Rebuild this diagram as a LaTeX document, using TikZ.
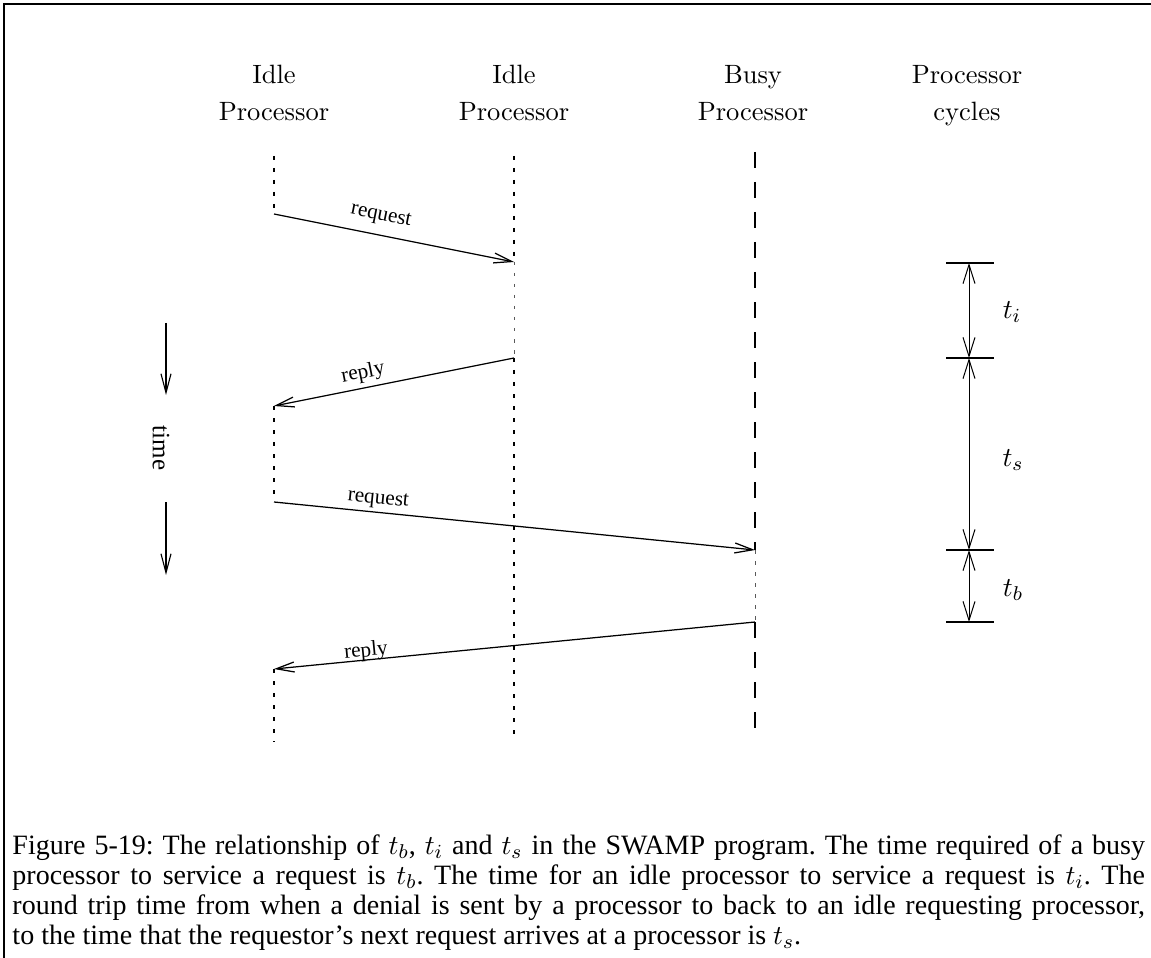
\documentclass[tikz,border=0pt]{standalone}
\usepackage{fontspec}
\newfontfamily\tms{Liberation Serif}
\usetikzlibrary{arrows.meta}
\begin{document}
\begin{tikzpicture}[x=0.4pt,y=-0.4pt,
  frameline/.style={line width=0.75pt},
  lifedot/.style={line width=1pt, dash pattern=on 1.6pt off 3.2pt},
  lifedash/.style={line width=1pt, dash pattern=on 6.4pt off 5.6pt},
  faint/.style={line width=0.4pt, black!65, dash pattern=on 1.4pt off 3pt},
  msg/.style={line width=0.5pt, -{Straight Barb[length=7.2pt,width=4pt]}},
  dimarrow/.style={line width=0.4pt, {Straight Barb[length=7.6pt,width=4.8pt]}-{Straight Barb[length=7.6pt,width=4.8pt]}},
  timearrow/.style={line width=0.45pt, -{Straight Barb[length=7.6pt,width=4pt]}},
  tick/.style={line width=0.5pt},
  msglabel/.style={font=\tms\fontsize{8.5}{10}\selectfont, inner sep=0pt, sloped},
  head/.style={font=\fontsize{10.6}{14.8}\selectfont, align=center, inner sep=0pt, anchor=north},
  mathlabel/.style={font=\fontsize{11}{13}\selectfont, inner sep=0pt},
  caption/.style={font=\tms\fontsize{11.2}{12}\selectfont\frenchspacing, inner sep=0pt, anchor=north west, text width=453pt, align=justify}
]
\useasboundingbox (0,0) rectangle (1151,958);
% frame
\coordinate (fTL) at (4,4);
\coordinate (fTR) at (1151,4);
\coordinate (fBL) at (4,958);
\draw[frameline] (fTR) -- (fTL) -- (fBL);

% headings
\node[head] (h1) at (274,65) {Idle\\Processor};
\node[head] (h2) at (514,65) {Idle\\Processor};
\node[head] (h3) at (753,65) {Busy\\Processor};
\node[head] (h4) at (967,65) {Processor\\cycles};

% lifeline coordinates
\coordinate (a0) at (274,156);
\coordinate (a1) at (274,214);
\coordinate (a2) at (274,406);
\coordinate (a3) at (274,502);
\coordinate (a4) at (274,669);
\coordinate (a5) at (274,742);
\coordinate (b0) at (514,156);
\coordinate (b1) at (514,262);
\coordinate (b2) at (514,358);
\coordinate (b3) at (514,734);
\coordinate (c0) at (755,152);
\coordinate (c1) at (755,550);
\coordinate (c2) at (755,622);
\coordinate (c3) at (755,742);

% lifelines
\draw[lifedot] (a0) -- (a1);
\draw[lifedot] (a2) -- (a3);
\draw[lifedot] (a4) -- (a5);
\draw[lifedot] (b0) -- (b1);
\draw[faint] (b1) -- (b2);
\draw[lifedot] (b2) -- (b3);
\draw[lifedash] (c0) -- (c1);
\draw[faint] (c1) -- (c2);
\draw[lifedash] (c2) -- (c3);

% messages
\draw[msg] (a1) -- node[msglabel, pos=0.43, above=4pt] {request} (b1);
\draw[msg] (b2) -- node[msglabel, pos=0.617, above=1.8pt] {reply} (a2);
\draw[msg] (a3) -- node[msglabel, pos=0.214, above=1.5pt] {request} (c1);
\draw[msg] (c2) -- node[msglabel, pos=0.807, above=-0.7pt] {reply} (a4);

% time indicator
\node[font=\tms\fontsize{10}{12}\selectfont, rotate=-90, inner sep=0pt] (time) at (161,448) {time};
\coordinate (t1s) at (166,323);
\coordinate (t1e) at (166,395);
\coordinate (t2s) at (166,502);
\coordinate (t2e) at (166,575);
\draw[timearrow] (t1s) -- (t1e);
\draw[timearrow] (t2s) -- (t2e);

% processor cycles dimensions
\coordinate (d1) at (969,263);
\coordinate (d2) at (969,358);
\coordinate (d3) at (969,550);
\coordinate (d4) at (969,622);
\foreach \d in {d1,d2,d3,d4} {
  \draw[tick] ([xshift=-9.2pt]\d) -- ([xshift=10pt]\d);
}
\draw[dimarrow] (d1) -- (d2);
\draw[dimarrow] (d2) -- (d3);
\draw[dimarrow] (d3) -- (d4);
\node[mathlabel] (ti) at (1012,312) {$t_i$};
\node[mathlabel] (ts) at (1013,460) {$t_s$};
\node[mathlabel] (tb) at (1013,590) {$t_b$};

% caption
\node[caption] (cap) at (12,834) {Figure 5-19: The relationship of $t_b$, $t_i$ and $t_s$ in the SWAMP program. The time required of a busy\linebreak processor to service a request is $t_b$. The time for an idle processor to service a request is $t_i$. The\linebreak round trip time from when a denial is sent by a processor to back to an idle requesting processor,\linebreak to the time that the requestor’s next request arrives at a processor is $t_s$.};
\end{tikzpicture}
\end{document}
